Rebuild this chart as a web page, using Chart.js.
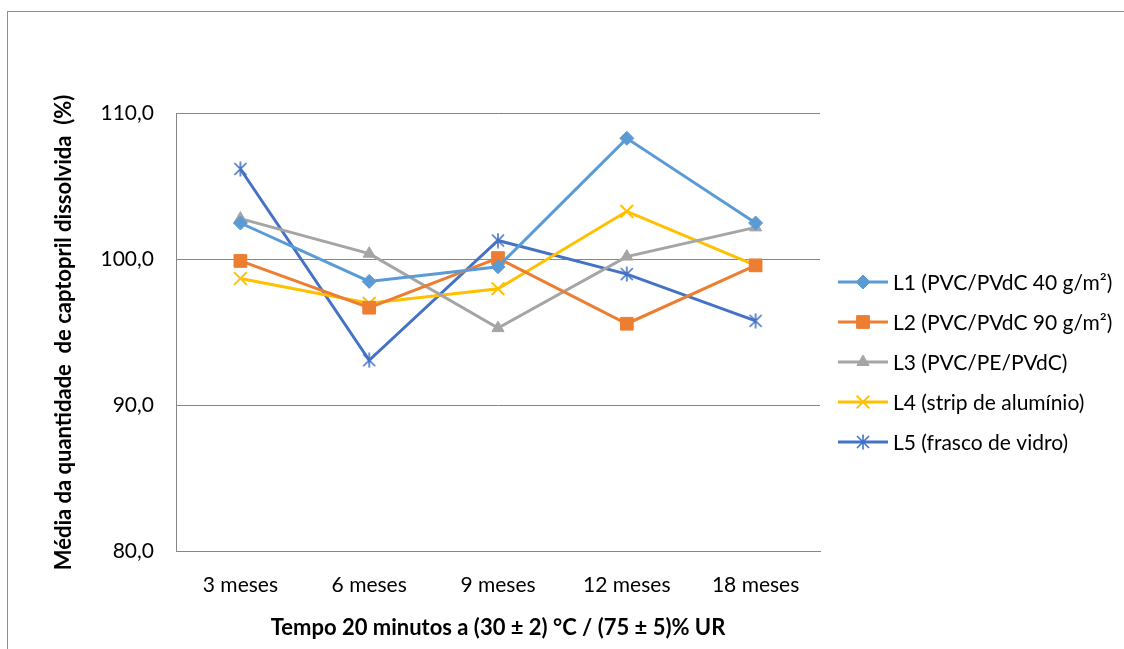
<!DOCTYPE html>
<html>
<head>
<meta charset="utf-8">
<script src="https://cdn.jsdelivr.net/npm/chart.js@4.4.0/dist/chart.umd.min.js"></script>
<style>
  html, body { margin: 0; padding: 0; background: #fff; }
  #wrap { position: relative; width: 1124px; height: 649px; overflow: hidden; }
  #moldura { position: absolute; left: 7px; top: 11px; width: 1300px; height: 800px; border: 1px solid #8e8e8e; box-sizing: border-box; }
  canvas { position: absolute; left: 0; top: 0; }
</style>
</head>
<body>
<div id="wrap">
  <div id="moldura"></div>
  <canvas id="grafico" width="1124" height="649"></canvas>
</div>
<script>
// dados
const categorias = ['3 meses', '6 meses', '9 meses', '12 meses', '18 meses'];
const nomesSeries = [
  'L1 (PVC/PVdC 40 g/m²)',
  'L2 (PVC/PVdC 90 g/m²)',
  'L3 (PVC/PE/PVdC)',
  'L4 (strip de alumínio)',
  'L5 (frasco de vidro)'
];
const L1 = [102.5, 98.5, 99.5, 108.3, 102.5];
const L2 = [99.9, 96.7, 100.1, 95.6, 99.6];
const L3 = [102.8, 100.4, 95.3, 100.2, 102.2];
const L4 = [98.7, 97.0, 98.0, 103.3, 99.6];
const L5 = [106.2, 93.1, 101.3, 99.0, 95.8];
const ticksY = [80, 90, 100, 110];

const tituloX = 'Tempo 20 minutos a (30 ± 2) °C / (75 ± 5)% UR';
const tituloY = 'Média da quantidade  de captopril dissolvida  (%)';

// marcador "estrela" do Excel: X com traço vertical
function marcadorEstrela(cor) {
  const c = document.createElement('canvas');
  c.width = 16; c.height = 16;
  const g = c.getContext('2d');
  g.strokeStyle = cor; g.lineWidth = 1.6;
  g.beginPath();
  g.moveTo(2, 2); g.lineTo(14, 14);
  g.moveTo(14, 2); g.lineTo(2, 14);
  g.moveTo(8, 0.5); g.lineTo(8, 15.5);
  g.stroke();
  return c;
}

function serie(nome, valores, cor, estilo, raio, borda) {
  return {
    label: nome,
    data: valores,
    borderColor: cor,
    backgroundColor: cor,
    pointBackgroundColor: cor,
    pointBorderColor: cor,
    pointStyle: estilo,
    pointRadius: raio,
    pointHoverRadius: raio,
    pointBorderWidth: borda,
    borderWidth: 3,
    tension: 0,
    fill: false
  };
}

const legendaLateral = {
  id: 'legendaLateral',
  afterDraw(chart) {
    const ctx = chart.ctx;
    chart.data.datasets.forEach((ds, i) => {
      const y = 282 + i * 40;
      ctx.save();
      ctx.strokeStyle = ds.borderColor;
      ctx.lineWidth = 3;
      ctx.beginPath();
      ctx.moveTo(838, y);
      ctx.lineTo(888, y);
      ctx.stroke();
      ctx.fillStyle = ds.pointBackgroundColor;
      ctx.strokeStyle = ds.pointBorderColor;
      ctx.lineWidth = ds.pointBorderWidth;
      Chart.helpers.drawPoint(ctx, {
        pointStyle: ds.pointStyle,
        radius: ds.pointRadius,
        borderWidth: ds.pointBorderWidth,
        rotation: 0
      }, 863, y);
      ctx.fillStyle = '#000';
      ctx.font = '21px Lato';
      ctx.textBaseline = 'middle';
      ctx.textAlign = 'left';
      ctx.fillText(ds.label, 893, y + 1);
      ctx.restore();
    });
  }
};

const ctx = document.getElementById('grafico').getContext('2d');
new Chart(ctx, {
  type: 'line',
  data: {
    labels: categorias,
    datasets: [
      serie(nomesSeries[0], L1, '#5B9BD5', 'rectRot', 7, 1),
      serie(nomesSeries[1], L2, '#ED7D31', 'rect', 9, 1),
      serie(nomesSeries[2], L3, '#A5A5A5', 'triangle', 7, 1),
      serie(nomesSeries[3], L4, '#FFC000', 'crossRot', 9, 2),
      serie(nomesSeries[4], L5, '#4472C4', marcadorEstrela('#4472C4'), 8, 2)
    ]
  },
  options: {
    responsive: false,
    animation: false,
    layout: { padding: { top: 113.5, right: 304, bottom: 0, left: 0 } },
    plugins: { legend: { display: false }, tooltip: { enabled: false } },
    scales: {
      x: {
        offset: true,
        grid: { display: false },
        border: { display: true, color: '#868686', width: 1 },
        ticks: { color: '#000', font: { family: 'Lato', size: 21 }, padding: 13, maxRotation: 0 },
        title: { display: true, text: tituloX, color: '#000', font: { family: 'Lato', size: 22, weight: 'bold' }, padding: { bottom: 8 } },
        afterFit(scale) { scale.height = 97.5; }
      },
      y: {
        min: 80,
        max: 110,
        afterBuildTicks(scale) { scale.ticks = ticksY.map(v => ({ value: v })); },
        grid: { color: '#868686', lineWidth: 1, drawTicks: false },
        border: { display: true, color: '#868686', width: 1 },
        ticks: {
          color: '#000',
          font: { family: 'Lato', size: 21 },
          padding: 22,
          callback: v => v.toFixed(1).replace('.', ',')
        },
        title: { display: true, text: tituloY, color: '#000', font: { family: 'Lato', size: 22, weight: 'bold' }, padding: { top: 51 } },
        afterFit(scale) { scale.width = 176; }
      }
    }
  },
  plugins: [legendaLateral]
});
</script>
</body>
</html>
